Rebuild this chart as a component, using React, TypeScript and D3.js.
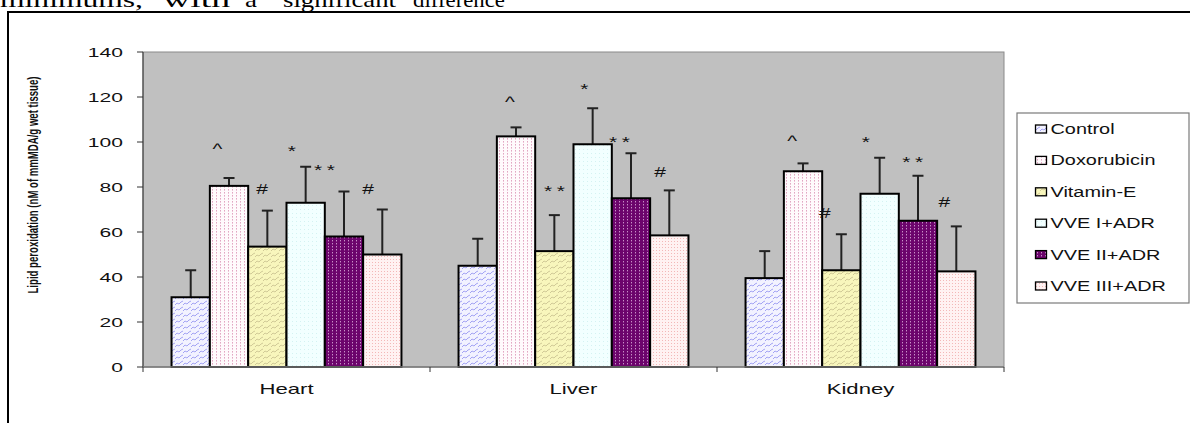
import React from "react";
import * as d3 from "d3";

// Tissue groups along the x axis
const organs = ["Heart", "Liver", "Kidney"];

// Treatment groups (legend order)
const treatments = ["Control", "Doxorubicin", "Vitamin-E", "VVE I+ADR", "VVE II+ADR", "VVE III+ADR"];

// Mean lipid peroxidation per treatment, in organ order (Heart, Liver, Kidney)
const control = [31, 45, 39.5];
const doxorubicin = [80.5, 102.5, 87];
const vitaminE = [53.5, 51.5, 43];
const vve1 = [73, 99, 77];
const vve2 = [58, 75, 65];
const vve3 = [50, 58.5, 42.5];

// Upper error (SD) per treatment
const controlErr = [12, 12, 12];
const doxorubicinErr = [3.5, 4, 3.5];
const vitaminEErr = [16, 16, 16];
const vve1Err = [16, 16, 16];
const vve2Err = [20, 20, 20];
const vve3Err = [20, 20, 20];

// Significance marks per treatment and organ
const controlMarks = ["", "", ""];
const doxorubicinMarks = ["^", "^", "^"];
const vitaminEMarks = ["#", "**", "#"];
const vve1Marks = ["*", "*", "*"];
const vve2Marks = ["**", "**", "**"];
const vve3Marks = ["#", "#", "#"];

// Level (in axis units) at which each mark sits
const controlMarkLevel = [0, 0, 0];
const doxorubicinMarkLevel = [98, 119, 101.5];
const vitaminEMarkLevel = [79, 79.7, 68.6];
const vve1MarkLevel = [97.2, 124.9, 101.5];
const vve2MarkLevel = [88.7, 101.5, 92.3];
const vve3MarkLevel = [79, 86.8, 73.5];

// Horizontal shift of each mark, in bar widths
const controlMarkShift = [0, 0, 0];
const doxorubicinMarkShift = [-0.3, -0.16, -0.28];
const vitaminEMarkShift = [-0.14, 0.06, -0.43];
const vve1MarkShift = [-0.36, -0.22, -0.36];
const vve2MarkShift = [-0.45, -0.24, -0.08];
const vve3MarkShift = [-0.37, -0.24, -0.31];

const yTicks = [0, 20, 40, 60, 80, 100, 120, 140];

const seriesValues = [control, doxorubicin, vitaminE, vve1, vve2, vve3];
const seriesErrors = [controlErr, doxorubicinErr, vitaminEErr, vve1Err, vve2Err, vve3Err];
const seriesMarks = [controlMarks, doxorubicinMarks, vitaminEMarks, vve1Marks, vve2Marks, vve3Marks];
const seriesMarkLevel = [controlMarkLevel, doxorubicinMarkLevel, vitaminEMarkLevel, vve1MarkLevel, vve2MarkLevel, vve3MarkLevel];
const seriesMarkShift = [controlMarkShift, doxorubicinMarkShift, vitaminEMarkShift, vve1MarkShift, vve2MarkShift, vve3MarkShift];

const W = 1190;
const H = 423;
const plot = { left: 143, right: 1004, top: 52, bottom: 367 };
const SANS = "'Liberation Sans', Arial, sans-serif";
const SERIF = "'Liberation Serif', 'Times New Roman', serif";

const fillIds = ["pCtrl", "pDox", "pVitE", "pV1", "pV2", "pV3"];

// Text drawn with a horizontal stretch
function WideText(props: {
  x: number; y: number; sx: number; size: number; anchor?: string; children: React.ReactNode; spacing?: number;
}) {
  const { x, y, sx, size, anchor = "start", children, spacing } = props;
  return (
    <text
      transform={`translate(${x},${y}) scale(${sx},1)`}
      fontFamily={SANS}
      fontSize={size}
      textAnchor={anchor}
      fill="#111"
      letterSpacing={spacing}
    >
      {children}
    </text>
  );
}

function Patterns() {
  return (
    <defs>
      <pattern id="pCtrl" width="8" height="6" patternUnits="userSpaceOnUse">
        <rect width="8" height="6" fill="#f2f2ff" />
        <path d="M0,5 L2,3 L4,4 L6,2 L8,1" fill="none" stroke="#8f8ff0" strokeWidth="0.8" />
      </pattern>
      <pattern id="pDox" width="4" height="3" patternUnits="userSpaceOnUse">
        <rect width="4" height="3" fill="#fffafc" />
        <rect x="1" y="0" width="1" height="1.6" fill="#e2a6c2" />
      </pattern>
      <pattern id="pVitE" width="8" height="6" patternUnits="userSpaceOnUse">
        <rect width="8" height="6" fill="#f8f6bc" />
        <path d="M0,5 L2,3 L4,4 L6,2 L8,1" fill="none" stroke="#c6bf8e" strokeWidth="0.8" />
      </pattern>
      <pattern id="pV1" width="4" height="4" patternUnits="userSpaceOnUse">
        <rect width="4" height="4" fill="#f2ffff" />
        <rect x="1" y="1" width="1" height="1" fill="#d4f2f2" />
      </pattern>
      <pattern id="pV2" width="4" height="3" patternUnits="userSpaceOnUse">
        <rect width="4" height="3" fill="#6c046c" />
        <rect x="1" y="0" width="1" height="1.4" fill="#c890c8" />
      </pattern>
      <pattern id="pV3" width="3" height="3" patternUnits="userSpaceOnUse">
        <rect width="3" height="3" fill="#fff2f2" />
        <rect x="1" y="1" width="1" height="1" fill="#f3b8b8" />
      </pattern>
    </defs>
  );
}

export default function App() {
  const x0 = d3.scaleBand<string>().domain(organs).range([plot.left, plot.right]).paddingInner(0).paddingOuter(0);
  const x1 = d3
    .scaleBand<string>()
    .domain(treatments)
    .range([0, x0.bandwidth()])
    .paddingInner(0)
    .paddingOuter(0.745);
  const y = d3.scaleLinear().domain([0, 140]).range([plot.bottom, plot.top]);
  const bw = x1.bandwidth();

  const legendX = 1017;
  const legendY = 113;
  const legendRowY = (i: number) => 129 + i * 31.4;

  return (
    <svg
      width={W}
      height={H}
      style={{ position: "absolute", left: 0, top: 0, background: "#fff" }}
    >
      <Patterns />

      {/* running text above the figure, clipped by the page edge */}
      <g fontFamily={SERIF} fontSize={22} fill="#000">
        <text x={0} y={7} textLength={143} lengthAdjust="spacingAndGlyphs">minimums,</text>
        <text x={163} y={7} textLength={67} lengthAdjust="spacingAndGlyphs">with</text>
        <text x={245} y={7} textLength={12} lengthAdjust="spacingAndGlyphs">a</text>
        <text x={283} y={7} textLength={113} lengthAdjust="spacingAndGlyphs">significant</text>
        <text x={413} y={7} textLength={92} lengthAdjust="spacingAndGlyphs">difference</text>
      </g>

      {/* figure frame */}
      <line x1={8} y1={12} x2={W} y2={12} stroke="#000" strokeWidth={2} />
      <line x1={8} y1={11} x2={8} y2={H} stroke="#000" strokeWidth={2} />

      {/* plot area */}
      <rect
        x={plot.left}
        y={plot.top}
        width={plot.right - plot.left}
        height={plot.bottom - plot.top}
        fill="#c0c0c0"
        stroke="#8a8a8a"
        strokeWidth={1}
      />

      {/* y axis */}
      <line x1={plot.left} y1={plot.top} x2={plot.left} y2={plot.bottom} stroke="#333" strokeWidth={1} />
      {yTicks.map((t) => (
        <g key={t}>
          <line x1={plot.left - 6} x2={plot.left} y1={y(t)} y2={y(t)} stroke="#333" strokeWidth={1} />
          <WideText x={123} y={y(t) + 4.7} sx={1.62} size={13} anchor="end">
            {t}
          </WideText>
        </g>
      ))}

      {/* y axis title */}
      <text
        transform={`translate(33,185) rotate(-90) scale(1,1.55)`}
        fontFamily={SANS}
        fontSize={9.5}
        fontWeight="bold"
        textAnchor="middle"
        dy="0.35em"
        textLength={217}
        lengthAdjust="spacingAndGlyphs"
        fill="#111"
      >
        Lipid peroxidation (nM of mmMDA/g wet tissue)
      </text>

      {/* bars */}
      {organs.map((org, gi) => (
        <g key={org} transform={`translate(${x0(org)},0)`}>
          {treatments.map((tr, si) => {
            const v = seriesValues[si][gi];
            const e = seriesErrors[si][gi];
            const bx = x1(tr) as number;
            const cx = bx + bw / 2;
            return (
              <g key={tr}>
                <line x1={cx} x2={cx} y1={y(v)} y2={y(v + e)} stroke="#222" strokeWidth={2} />
                <line x1={cx - 5.5} x2={cx + 5.5} y1={y(v + e)} y2={y(v + e)} stroke="#222" strokeWidth={2} />
                <rect
                  x={bx}
                  y={y(v)}
                  width={bw}
                  height={y(0) - y(v)}
                  fill={`url(#${fillIds[si]})`}
                  stroke="#000"
                  strokeWidth={2}
                />
              </g>
            );
          })}
          {treatments.map((tr, si) => {
            const m = seriesMarks[si][gi];
            if (!m) return null;
            const cx = (x1(tr) as number) + bw / 2 + seriesMarkShift[si][gi] * bw;
            const cy = y(seriesMarkLevel[si][gi]);
            // the glyphs sit at different heights in the em box
            const base = m === "#" ? cy + 5 : m === "^" ? cy + 7.5 : cy + 8;
            return (
              <WideText key={tr} x={cx} y={base} sx={1.5} size={m === "#" ? 14 : 14} anchor="middle" spacing={m === "**" ? 3 : undefined}>
                {m}
              </WideText>
            );
          })}
        </g>
      ))}

      {/* x axis */}
      <line x1={plot.left} x2={plot.right} y1={plot.bottom} y2={plot.bottom} stroke="#7a7a7a" strokeWidth={1.5} />
      {[...organs.map((o) => x0(o) as number), plot.right].map((tx, i) => (
        <line key={i} x1={tx} x2={tx} y1={plot.bottom} y2={plot.bottom + 5} stroke="#333" strokeWidth={1} />
      ))}
      {organs.map((o) => (
        <WideText key={o} x={(x0(o) as number) + x0.bandwidth() / 2} y={393.5} sx={1.58} size={14} anchor="middle">
          {o}
        </WideText>
      ))}

      {/* legend */}
      <rect x={legendX} y={legendY} width={172} height={190} fill="#fff" stroke="#7a7a7a" strokeWidth={1.2} />
      {treatments.map((tr, i) => (
        <g key={tr}>
          <rect
            x={1035.5}
            y={legendRowY(i) - 4}
            width={11}
            height={8}
            fill={`url(#${fillIds[i]})`}
            stroke="#000"
            strokeWidth={1.3}
          />
          <WideText x={1050.5} y={legendRowY(i) + 5} sx={1.42} size={14}>
            {tr}
          </WideText>
        </g>
      ))}
    </svg>
  );
}
